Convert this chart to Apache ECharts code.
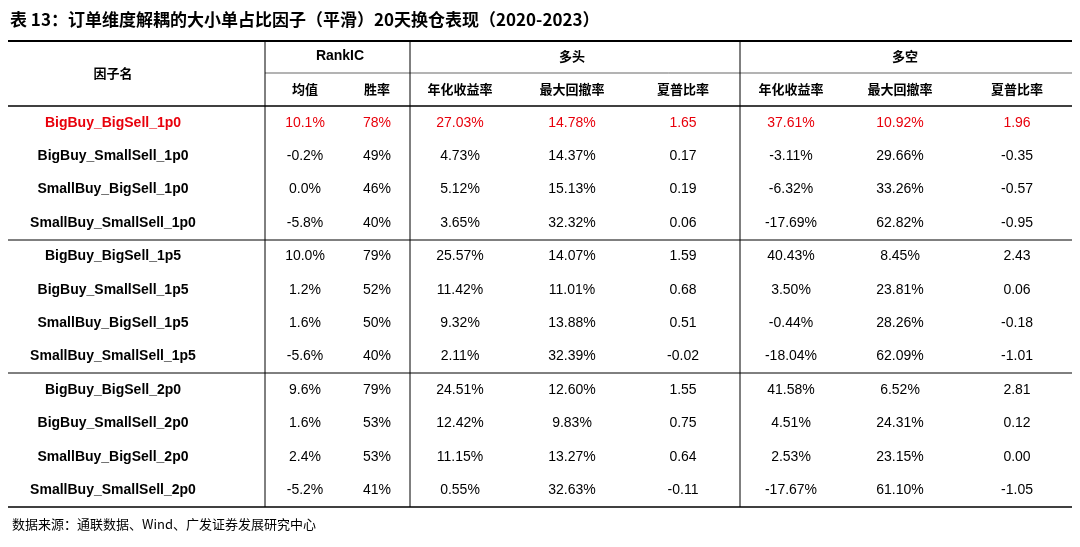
<!DOCTYPE html>
<html><head><meta charset="utf-8">
<script src="https://cdn.jsdelivr.net/npm/echarts@6/dist/echarts.min.js"></script>
<style>html,body{margin:0;background:#fff}#c{width:1080px;height:547px}</style>
</head><body><div id="c"></div>
<script>
// 数据
const factors = ['BigBuy_BigSell_1p0','BigBuy_SmallSell_1p0','SmallBuy_BigSell_1p0','SmallBuy_SmallSell_1p0',
  'BigBuy_BigSell_1p5','BigBuy_SmallSell_1p5','SmallBuy_BigSell_1p5','SmallBuy_SmallSell_1p5',
  'BigBuy_BigSell_2p0','BigBuy_SmallSell_2p0','SmallBuy_BigSell_2p0','SmallBuy_SmallSell_2p0'];
const icMean = ['10.1%','-0.2%','0.0%','-5.8%','10.0%','1.2%','1.6%','-5.6%','9.6%','1.6%','2.4%','-5.2%'];
const icWin = ['78%','49%','46%','40%','79%','52%','50%','40%','79%','53%','53%','41%'];
const longRet = ['27.03%','4.73%','5.12%','3.65%','25.57%','11.42%','9.32%','2.11%','24.51%','12.42%','11.15%','0.55%'];
const longDd = ['14.78%','14.37%','15.13%','32.32%','14.07%','11.01%','13.88%','32.39%','12.60%','9.83%','13.27%','32.63%'];
const longSr = ['1.65','0.17','0.19','0.06','1.59','0.68','0.51','-0.02','1.55','0.75','0.64','-0.11'];
const lsRet = ['37.61%','-3.11%','-6.32%','-17.69%','40.43%','3.50%','-0.44%','-18.04%','41.58%','4.51%','2.53%','-17.67%'];
const lsDd = ['10.92%','29.66%','33.26%','62.82%','8.45%','23.81%','28.26%','62.09%','6.52%','24.31%','23.15%','61.10%'];
const lsSr = ['1.96','-0.35','-0.57','-0.95','2.43','0.06','-0.18','-1.01','2.81','0.12','0.00','-1.05'];
const subHeads = ['均值','胜率','年化收益率','最大回撤率','夏普比率','年化收益率','最大回撤率','夏普比率'];
const highlightRow = 0;

// 版式
const colX = [113, 305, 377, 460, 572, 683, 791, 900, 1017];
const columns = [factors, icMean, icWin, longRet, longDd, longSr, lsRet, lsDd, lsSr];
const cells = [];
columns.forEach((col, c) => col.forEach((v, r) => cells.push([colX[c], r, v, c])));

const cjk = '"Noto Sans CJK SC", sans-serif';
const latin = '"Liberation Sans", Arial, sans-serif';
const line = (x1, y1, x2, y2, w) => ({ type: 'line', shape: { x1, y1, x2, y2 }, style: { stroke: '#000', lineWidth: w || 1 } });
const txt = (x, y, t, opt) => ({ type: 'text', x, y, style: Object.assign({ text: t, fill: '#000', font: '13px ' + cjk, align: 'center', verticalAlign: 'middle' }, opt) });

const graphic = [
  txt(10, 20, '表 13：订单维度解耦的大小单占比因子（平滑）20天换仓表现（2020-2023）', { align: 'left', font: 'bold 17px ' + cjk }),
  line(8, 41, 1072, 41, 2),
  line(8, 106, 1072, 106, 1.5),
  line(8, 240, 1072, 240, 1),
  line(8, 373, 1072, 373, 1),
  line(8, 507, 1072, 507, 1.5),
  line(265, 41, 265, 507), line(410, 41, 410, 507), line(740, 41, 740, 507),
  line(265, 73, 1072, 73, 0.6),
  txt(113, 73, '因子名', { font: 'bold 13px ' + cjk }),
  txt(340, 56, 'RankIC', { font: 'bold 14px ' + latin }),
  txt(572, 56, '多头', { font: 'bold 13px ' + cjk }),
  txt(905, 56, '多空', { font: 'bold 13px ' + cjk }),
  txt(12, 524, '数据来源：通联数据、Wind、广发证券发展研究中心', { align: 'left', font: '13px ' + cjk })
];
subHeads.forEach((h, i) => graphic.push(txt(colX[i + 1], 89, h, { font: 'bold 13px ' + cjk })));

const chart = echarts.init(document.getElementById('c'));
chart.setOption({
  animation: false,
  grid: { left: 0, right: 0, top: 106, bottom: 40 },
  xAxis: { type: 'value', min: 0, max: 1080, show: false },
  yAxis: { type: 'category', data: factors, inverse: true, show: false },
  graphic,
  series: [{
    type: 'custom',
    data: cells,
    renderItem: (params, api) => {
      const p = api.coord([api.value(0), api.value(1)]);
      const r = api.value(1), c = api.value(3);
      return {
        type: 'text', x: p[0], y: p[1],
        style: {
          text: cells[params.dataIndex][2],
          fill: r === highlightRow ? '#e8000b' : '#000',
          font: (c === 0 ? 'bold ' : '') + '14px ' + latin,
          align: 'center', verticalAlign: 'middle'
        }
      };
    }
  }]
});
</script></body></html>
